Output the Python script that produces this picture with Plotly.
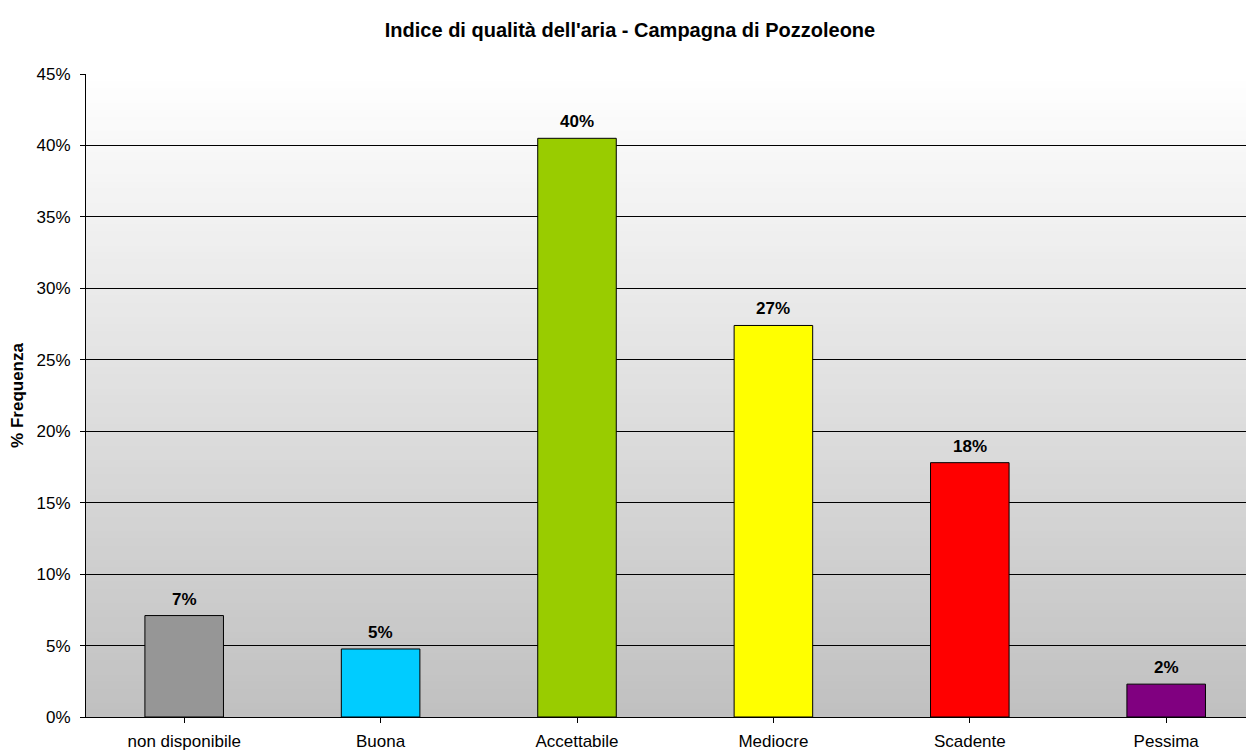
import plotly.graph_objects as go

categories = ["non disponibile", "Buona", "Accettabile", "Mediocre", "Scadente", "Pessima"]
values = [7.1, 4.76, 40.5, 27.4, 17.8, 2.3]
labels = ["7%", "5%", "40%", "27%", "18%", "2%"]
colors = ["#969696", "#00CCFF", "#99CC00", "#FFFF00", "#FF0000", "#800080"]
y_ticks = [0, 5, 10, 15, 20, 25, 30, 35, 40, 45]
y_tick_text = [f"{t}%" for t in y_ticks]

FONT = "Liberation Sans, Arial, sans-serif"

# page body has an 8px margin; compensate so the plot lands where the reference has it
OFF = 8
W, H = 1254, 751
L, T, B = 86 - OFF, 74 - OFF, H - (717 - OFF)
R = OFF
CAT_W = 196.4

fig = go.Figure()
fig.add_trace(go.Bar(
    x=list(range(len(categories))),
    y=values,
    marker=dict(color=colors, line=dict(color="#000000", width=1)),
    width=0.4,
    hoverinfo="skip",
))

# gradient background (white at top to gray at bottom), overlapping bands to avoid seams
n = 90
shapes = []
for i in range(n):
    f = (i + 0.5) / n  # 0 bottom -> 1 top
    c = int(round(0xC0 + (0xFF - 0xC0) * f))
    shapes.append(dict(type="rect", xref="paper", yref="paper",
                       x0=0, x1=1, y0=i / n, y1=1,
                       fillcolor=f"rgb({c},{c},{c})", line=dict(width=0),
                       layer="below"))

annotations = []
for i, (v, lab) in enumerate(zip(values, labels)):
    annotations.append(dict(x=i, y=v, text=f"<b>{lab}</b>", showarrow=False,
                            yanchor="bottom", yshift=5,
                            font=dict(family=FONT, size=17, color="#000000")))

fig.update_layout(
    width=W, height=H,
    margin=dict(l=L, r=R, t=T, b=B),
    paper_bgcolor="#FFFFFF",
    plot_bgcolor="rgba(0,0,0,0)",
    showlegend=False,
    title=dict(text="<b>Indice di qualità dell'aria - Campagna di Pozzoleone</b>",
               x=(630 - OFF) / W, xanchor="center", y=1 - (30 - OFF) / H, yanchor="middle",
               font=dict(family=FONT, size=20, color="#000000")),
    shapes=shapes,
    annotations=annotations,
)
fig.update_xaxes(
    tickmode="array", tickvals=list(range(len(categories))), ticktext=categories,
    range=[-0.5, -0.5 + (W - OFF - L) / CAT_W],
    tickson="boundaries", ticks="outside", ticklen=5, tickcolor="#000000",
    showline=True, linecolor="#000000", linewidth=1,
    showgrid=False, zeroline=False,
    tickfont=dict(family=FONT, size=17, color="#000000"),
    ticklabelstandoff=4,
)
fig.update_yaxes(
    range=[0, 45], tickmode="array", tickvals=y_ticks, ticktext=y_tick_text,
    ticks="outside", ticklen=5, tickcolor="#000000",
    showline=True, linecolor="#000000", linewidth=1,
    showgrid=True, gridcolor="#000000", gridwidth=1, zeroline=False,
    tickfont=dict(family=FONT, size=17, color="#000000"),
    ticklabelstandoff=6,
    title=dict(text="<b>% Frequenza</b>", font=dict(family=FONT, size=17, color="#000000"),
               standoff=10),
)

fig.write_html("out.html")
